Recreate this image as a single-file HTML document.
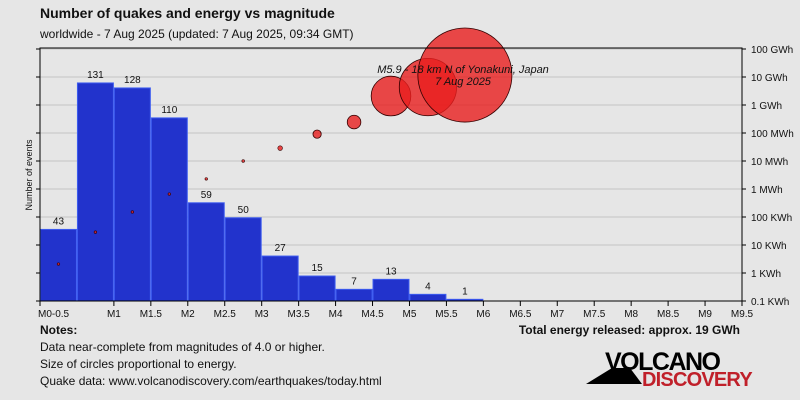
<!DOCTYPE html>
<html><head><meta charset="utf-8"><style>
body{margin:0;background:#e6e6e6;font-family:"Liberation Sans","DejaVu Sans",sans-serif}
svg{display:block}
</style></head><body>
<svg id="c" width="800" height="400" xmlns="http://www.w3.org/2000/svg">
<rect width="800" height="400" fill="#e6e6e6"/>
<text x="40" y="18" font-size="14" font-weight="bold" fill="#111">Number of quakes and energy vs magnitude</text>
<text x="40" y="38" font-size="12" fill="#111">worldwide -  7 Aug 2025 (updated: 7 Aug 2025, 09:34 GMT)</text>
<g id="grid"></g><g id="bars"></g><g id="dots"></g><g id="axes"></g>
<text x="32" y="175" font-size="9" fill="#111" transform="rotate(-90 32 175)" text-anchor="middle">Number of events</text>
<text x="463" y="73" font-size="11" font-style="italic" fill="#111" text-anchor="middle">M5.9 - 18 km N of Yonakuni, Japan</text>
<text x="463" y="85" font-size="11" font-style="italic" fill="#111" text-anchor="middle">7 Aug 2025</text>
<text x="40" y="334" font-size="12" font-weight="bold" fill="#111">Notes:</text>
<text x="40" y="351" font-size="12" fill="#111">Data near-complete from magnitudes of 4.0 or higher.</text>
<text x="40" y="368" font-size="12" fill="#111">Size of circles proportional to energy.</text>
<text x="40" y="385" font-size="12" fill="#111">Quake data: www.volcanodiscovery.com/earthquakes/today.html</text>
<text x="740" y="334" font-size="12" font-weight="bold" fill="#111" text-anchor="end">Total energy released: approx. 19 GWh</text>
<g>
<polygon points="586,384 612,368 630,368 642,384" fill="#000"/>
<text x="605" y="370" font-size="25" font-weight="bold" fill="#000" letter-spacing="-1.5">VOLCANO</text>
<text x="642" y="386" font-size="20" font-weight="bold" fill="#c0202a" letter-spacing="-0.8">DISCOVERY</text>
</g>
</svg>
<script>
const counts=[43,131,128,110,59,50,27,15,7,13,4,1];
const energyLog=[3.32,4.46,5.18,5.82,6.36,7.0,7.46,7.96,8.39,9.32,9.64,10.07];
const xTicks=["M0-0.5","M1","M1.5","M2","M2.5","M3","M3.5","M4","M4.5","M5","M5.5","M6","M6.5","M7","M7.5","M8","M8.5","M9","M9.5"];
const eTicks=["0.1 KWh","1 KWh","10 KWh","100 KWh","1 MWh","10 MWh","100 MWh","1 GWh","10 GWh","100 GWh"];
const NS="http://www.w3.org/2000/svg";
const L=40,R=742,T=48,B=301;
const bw=(R-L)/19;
const xB=i=>L+i*bw;
const yC=v=>B-v*(B-T)/152;
const yE=lg=>B-(lg-2)*28;
function mk(p,t,a){const e=document.createElementNS(NS,t);for(const k in a)e.setAttribute(k,a[k]);document.getElementById(p).appendChild(e);return e;}
eTicks.forEach((t,i)=>{const y=yE(2+i);
const g=mk('grid','line',{x1:L,x2:R,y1:y,y2:y,stroke:'#c4c4c4','stroke-width':1});


mk('axes','line',{x1:R,x2:R+4,y1:y,y2:y,stroke:'#000'});
mk('axes','line',{x1:L-4,x2:L,y1:y,y2:y,stroke:'#000'});
const tx=mk('axes','text',{x:R+9,y:y+4,'font-size':10,fill:'#111'});tx.textContent=t;

});
counts.forEach((c,i)=>{
const r=mk('bars','rect',{x:xB(i)+0.5,y:yC(c),width:bw-1,height:B-yC(c),fill:'#2233cc',stroke:'#3d5cf0','stroke-width':1});


const t=mk('bars','text',{x:xB(i)+bw/2,y:yC(c)-5,'font-size':10,fill:'#111','text-anchor':'middle'});t.textContent=c;

});
energyLog.forEach((lg,i)=>{const E=Math.pow(10,lg);const rad=Math.max(1.3,4.34e-4*Math.sqrt(E));
const c=mk('dots','circle',{cx:xB(i)+bw/2,cy:yE(lg),r:rad,fill:'rgba(232,30,30,0.8)',stroke:'#300','stroke-width':rad>3?0.8:0.6});

});
mk('axes','polyline',{points:`${L},${B} ${L},${T} ${R},${T} ${R},${B} ${L},${B}`,fill:'none',stroke:'#000','stroke-width':1});
xTicks.forEach((t,i)=>{const x=L+(i==0?0:i+1)*bw;
mk('axes','line',{x1:x,x2:x,y1:B,y2:B+5,stroke:'#000'});
const tx=mk('axes','text',{x:i==0?x-2:x,y:B+16,'font-size':10,fill:'#111','text-anchor':i==0?'start':'middle'});tx.textContent=t;

});
</script>
</body></html>
